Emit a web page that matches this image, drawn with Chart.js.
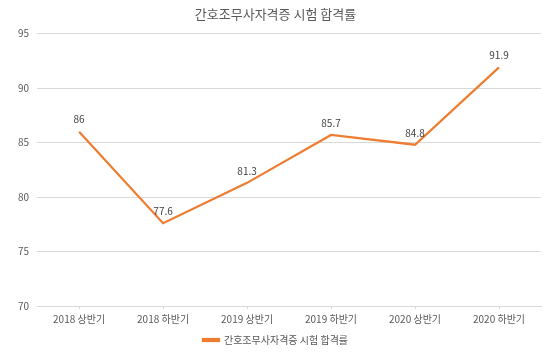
<!DOCTYPE html>
<html lang="ko">
<head>
  <meta charset="UTF-8">
  <title>간호조무사자격증 시험 합격률</title>
  <script src="https://cdn.jsdelivr.net/npm/chart.js"></script>
  <style>
    body { margin: 0; background: #fff; }
  </style>
</head>
<body>
  <canvas id="passChart" width="550" height="364"></canvas>
  <script>
    const FONT = "'Noto Sans CJK KR', 'Noto Sans', sans-serif"
    const chartTitle = '간호조무사자격증 시험 합격률'
    const periods = ['2018 상반기', '2018 하반기', '2019 상반기', '2019 하반기', '2020 상반기', '2020 하반기']
    const passRates = [86, 77.6, 81.3, 85.7, 84.8, 91.9]

    // value labels above each point
    const pointLabels = {
      id: 'pointLabels',
      afterDatasetsDraw(chart) {
        const ctx = chart.ctx
        const meta = chart.getDatasetMeta(0)
        ctx.save()
        ctx.font = '10px ' + FONT
        ctx.fillStyle = '#404040'
        ctx.textAlign = 'center'
        ctx.textBaseline = 'bottom'
        meta.data.forEach((pt, i) => {
          ctx.fillText(String(passRates[i]), pt.x, pt.y - 7)
        })
        ctx.restore()
      }
    }

    new Chart(document.getElementById('passChart'), {
      type: 'line',
      data: {
        labels: periods,
        datasets: [{
          label: chartTitle,
          data: passRates,
          borderColor: '#ED7D31',
          backgroundColor: '#ED7D31',
          borderWidth: 2.25,
          pointRadius: 0,
          tension: 0,
        }]
      },
      options: {
        responsive: false,
        animation: false,
        layout: { padding: { left: 10, right: 9, top: 4, bottom: 9 } },
        plugins: {
          title: {
            display: true,
            text: chartTitle,
            color: '#595959',
            font: { family: FONT, size: 13, weight: 'normal' },
            padding: { top: 2, bottom: 12 }
          },
          legend: {
            position: 'bottom',
            labels: {
              color: '#595959',
              font: { family: FONT, size: 10 },
              boxWidth: 16,
              boxHeight: 2,
              padding: 6
            }
          },
          tooltip: { enabled: false }
        },
        scales: {
          x: {
            offset: true,
            grid: { display: true, drawOnChartArea: false, color: '#d9d9d9', tickLength: 3 },
            border: { color: '#d9d9d9' },
            ticks: { color: '#595959', font: { family: FONT, size: 10 }, padding: 4 },
          },
          y: {
            min: 70,
            max: 95,
            ticks: { stepSize: 5, color: '#595959', font: { family: FONT, size: 10 }, padding: 8 },
            grid: { color: '#d9d9d9', drawTicks: false },
            border: { display: false }
          }
        }
      },
      plugins: [pointLabels]
    })
  </script>
</body>
</html>
